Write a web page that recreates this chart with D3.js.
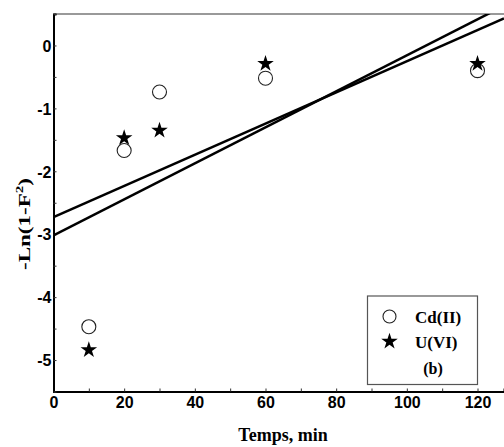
<!DOCTYPE html>
<html><head><meta charset="utf-8">
<script src="https://cdn.jsdelivr.net/npm/d3@7"></script>
<style>body{margin:0;background:#fff}svg{display:block}</style>
</head><body>
<script>
const times = [10, 20, 30, 60, 120];
const cdValues = [-4.47, -1.67, -0.74, -0.52, -0.40];
const uValues = [-4.84, -1.47, -1.35, -0.29, -0.29];
const cdFit = [[0, -2.73], [127.5, 0.43]];
const uFit = [[0, -3.02], [127.5, 0.63]];
const xTicks = [0, 20, 40, 60, 80, 100, 120];
const yTicks = [0, -1, -2, -3, -4, -5];
const legendLabels = ["Cd(II)", "U(VI)", "(b)"];

const W = 504, H = 447;
const svg = d3.select("body").append("svg").attr("width", W).attr("height", H);
const x = d3.scaleLinear().domain([0, 127.5]).range([53.5, 504]);
const y = d3.scaleLinear().domain([-5.5, 0.5]).range([391.5, 14]);

svg.append("defs").append("clipPath").attr("id", "clip")
  .append("rect").attr("x", x(0)).attr("y", y(0.5)).attr("width", x(127.5) - x(0)).attr("height", y(-5.5) - y(0.5));

// top border
svg.append("line").attr("x1", x(0)).attr("x2", W).attr("y1", y(0.5)).attr("y2", y(0.5))
  .attr("stroke", "#777").attr("stroke-width", 1.5);

// axes
const xAxis = d3.axisBottom(x).tickValues(d3.range(0, 128, 10)).tickSize(-3).tickFormat(d => xTicks.includes(d) ? d : "");
const gx = svg.append("g").attr("transform", `translate(0,${y(-5.5)})`).call(xAxis);
gx.select(".domain").attr("stroke", "#000").attr("stroke-width", 2);
gx.selectAll(".tick line").attr("stroke", "#333");
gx.selectAll(".tick text").attr("y", 16).attr("dy", 0)
  .style("font-family", "Liberation Sans, Arial, sans-serif").style("font-weight", "bold").style("font-size", "16px").attr("fill", "#000");

const yAxis = d3.axisLeft(y).tickValues(d3.range(-5.5, 0.6, 0.5)).tickSize(-3).tickFormat(d => yTicks.includes(d) ? d : "");
const gy = svg.append("g").attr("transform", `translate(${x(0)},0)`).call(yAxis);
gy.select(".domain").attr("stroke", "#000").attr("stroke-width", 2);
gy.selectAll(".tick line").attr("stroke", "#333");
gy.selectAll(".tick text").attr("x", -2).attr("dy", "0.36em")
  .style("font-family", "Liberation Sans, Arial, sans-serif").style("font-weight", "bold").style("font-size", "16px").attr("fill", "#000");

// fit lines
const line = d3.line().x(d => x(d[0])).y(d => y(d[1]));
const gl = svg.append("g").attr("clip-path", "url(#clip)");
[cdFit, uFit].forEach(f => gl.append("path").attr("d", line(f)).attr("fill", "none").attr("stroke", "#000").attr("stroke-width", 2.5));

// points
svg.append("g").selectAll("circle").data(times).join("circle")
  .attr("cx", (d) => x(d)).attr("cy", (d, i) => y(cdValues[i])).attr("r", 7)
  .attr("fill", "#fff").attr("stroke", "#222").attr("stroke-width", 1.1);
const star = d3.symbol().type(d3.symbolStar).size(85);
svg.append("g").selectAll("path").data(times).join("path")
  .attr("d", star).attr("transform", (d, i) => `translate(${x(d)},${y(uValues[i])})`).attr("fill", "#000");

// legend
svg.append("rect").attr("x", 367.5).attr("y", 296).attr("width", 110).attr("height", 88.5)
  .attr("fill", "#fff").attr("stroke", "#555").attr("stroke-width", 1.2);
svg.append("circle").attr("cx", 389.5).attr("cy", 316.5).attr("r", 6.5).attr("fill", "#fff").attr("stroke", "#222").attr("stroke-width", 1.1);
svg.append("path").attr("d", star).attr("transform", "translate(389.5,341.5)").attr("fill", "#000");
const lt = svg.append("g").style("font-family", "Liberation Serif, Times New Roman, serif").style("font-weight", "bold").style("font-size", "17px");
lt.append("text").attr("x", 415).attr("y", 322.5).text(legendLabels[0]);
lt.append("text").attr("x", 415).attr("y", 347.5).text(legendLabels[1]);
lt.append("text").attr("x", 433).attr("y", 373.5).attr("text-anchor", "middle").style("font-size", "16px").text(legendLabels[2]);

// axis titles
svg.append("text").attr("x", 283).attr("y", 441).attr("text-anchor", "middle")
  .style("font-family", "Liberation Serif, Times New Roman, serif").style("font-weight", "bold").style("font-size", "18px").text("Temps, min");
const yl = svg.append("text").attr("transform", "translate(30,224) rotate(-90)").attr("text-anchor", "middle")
  .style("font-family", "Liberation Serif, Times New Roman, serif").style("font-weight", "bold").style("font-size", "17px")
  .attr("textLength", 92).attr("lengthAdjust", "spacingAndGlyphs");
yl.append("tspan").text("-Ln(1-F");
yl.append("tspan").attr("dy", -7).style("font-size", "11px").text("2");
yl.append("tspan").attr("dy", 7).text(")");
</script>
</body></html>
